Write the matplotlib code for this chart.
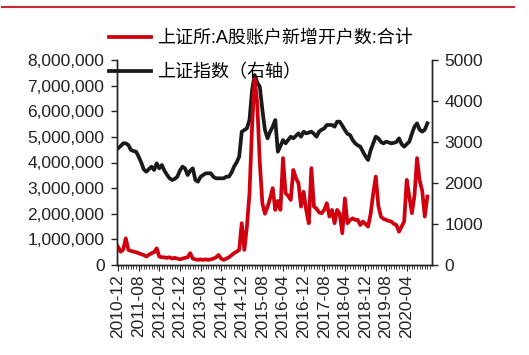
import matplotlib
matplotlib.use("Agg")
import matplotlib.pyplot as plt
import numpy as np
import pandas as pd
from matplotlib.lines import Line2D
from matplotlib.ticker import FuncFormatter, MultipleLocator

plt.rcParams['font.family'] = ['Liberation Sans', 'Noto Sans CJK SC', 'DejaVu Sans']

# monthly data, 2010-12 .. 2020-12
months = pd.date_range('2010-12-01', periods=121, freq='MS')

# 上证所:A股账户新增开户数:合计 (millions)
new_accounts_m = [
    0.71, 0.52, 0.60, 1.04, 0.59, 0.55, 0.52, 0.50, 0.46, 0.42,
    0.39, 0.33, 0.40, 0.46, 0.50, 0.65, 0.33, 0.30, 0.30, 0.28,
    0.30, 0.25, 0.28, 0.25, 0.22, 0.25, 0.28, 0.30, 0.46, 0.25,
    0.22, 0.20, 0.22, 0.20, 0.22, 0.20, 0.22, 0.25, 0.30, 0.39,
    0.25, 0.20, 0.25, 0.30, 0.38, 0.46, 0.52, 0.59, 1.63, 0.59,
    1.50, 2.80, 5.40, 7.29, 6.30, 4.00, 2.40, 2.00, 2.27, 2.60,
    3.00, 2.15, 2.50, 2.15, 4.17, 2.80, 2.70, 2.54, 3.71, 3.40,
    3.19, 2.28, 2.86, 2.15, 1.63, 3.78, 2.28, 2.20, 2.05, 2.02,
    2.15, 2.41, 1.89, 2.15, 1.63, 2.15, 2.00, 1.24, 2.60, 1.63,
    1.75, 1.82, 1.76, 1.76, 1.56, 1.70, 1.60, 1.50, 2.00, 2.80,
    3.45, 2.30, 1.89, 1.80, 1.76, 1.72, 1.70, 1.60, 1.56, 1.30,
    1.50, 1.70, 3.32, 2.67, 2.02, 2.70, 4.17, 3.30, 2.90, 1.89,
    2.67,
]
new_accounts = [v * 1e6 for v in new_accounts_m]

# 上证指数 (right axis)
sh_index = [
    2845, 2900, 2967, 2967, 2927, 2805, 2780, 2764, 2642, 2500,
    2330, 2276, 2340, 2398, 2317, 2480, 2358, 2439, 2300, 2200,
    2114, 2073, 2100, 2154, 2300, 2398, 2358, 2195, 2300, 2358,
    2073, 2033, 2150, 2195, 2236, 2236, 2236, 2150, 2114, 2114,
    2114, 2114, 2154, 2154, 2250, 2398, 2500, 2642, 3250, 3293,
    3333, 3537, 4268, 4634, 4450, 4350, 3780, 3293, 3090, 3250,
    3374, 3537, 2764, 2900, 3049, 2967, 3050, 3130, 3089, 3150,
    3211, 3130, 3252, 3211, 3230, 3252, 3200, 3130, 3252, 3300,
    3333, 3415, 3415, 3415, 3374, 3496, 3496, 3400, 3293, 3200,
    3171, 3050, 2967, 2920, 2886, 2764, 2650, 2561, 2800, 2967,
    3130, 3089, 3000, 2967, 3008, 2990, 2967, 2980, 3000, 3089,
    2950, 2886, 2950, 3008, 3200, 3374, 3455, 3300, 3252, 3300,
    3455,
]

tick_labels = ['2010-12', '2011-08', '2012-04', '2012-12', '2013-08', '2014-04',
               '2014-12', '2015-08', '2016-04', '2016-12', '2017-08', '2018-04',
               '2018-12', '2019-08', '2020-04']
label_red = '上证所:A股账户新增开户数:合计'
label_black = '上证指数（右轴）'

RED = '#d0000f'
BLACK = '#1a1a1a'

x = np.arange(len(months))
month_str = [d.strftime('%Y-%m') for d in months]
tick_pos = [month_str.index(t) for t in tick_labels]

fig = plt.figure(figsize=(5.29, 3.55), dpi=100)
ax = fig.add_axes([117 / 529, 90 / 355, 315 / 529, 205 / 355])
ax2 = ax.twinx()

ln1, = ax.plot(x, new_accounts, color=RED, lw=2.7, label=label_red, solid_joinstyle='round')
ln2, = ax2.plot(x, sh_index, color=BLACK, lw=2.7, label=label_black, solid_joinstyle='round')

# red on top of black
ax.set_zorder(ax2.get_zorder() + 1)
ax.patch.set_visible(False)

ax.set_xlim(-0.4, 121.8)
ax.set_ylim(0, 8e6)
ax2.set_ylim(0, 5000)
ax.yaxis.set_major_locator(MultipleLocator(1e6))
ax2.yaxis.set_major_locator(MultipleLocator(1000))
ax.yaxis.set_major_formatter(FuncFormatter(lambda v, p: f'{int(v):,}'))

ax.set_xticks(tick_pos)
ax.set_xticklabels(tick_labels, rotation=90)
ax.xaxis.set_minor_locator(MultipleLocator(1))

for a in (ax, ax2):
    a.spines['top'].set_visible(False)
    for s in a.spines.values():
        s.set_linewidth(1.0)
        s.set_color('#222222')
ax.tick_params(axis='y', labelsize=12.5, length=4, width=1, pad=5, colors='#222222')
ax2.tick_params(axis='y', labelsize=12.5, length=4, width=1, pad=5, colors='#222222')
ax.tick_params(axis='x', which='major', labelsize=12.5, length=4, width=0.8, pad=3, colors='#222222')
ax.tick_params(axis='x', which='minor', length=3, width=0.6, colors='#222222')

fig.legend(handles=[ln1, ln2], loc='upper left', bbox_to_anchor=(100 / 529, 1 - 21 / 355),
           frameon=False, fontsize=13, handlelength=2.35, handletextpad=0.3,
           labelspacing=0.95, borderpad=0)

# red rule across the top of the page
fig.add_artist(Line2D([2 / 529, 514 / 529], [1 - 7 / 355, 1 - 7 / 355],
                      color='#c8283a', lw=1.5, transform=fig.transFigure))

fig.savefig('out.png', dpi=100)
